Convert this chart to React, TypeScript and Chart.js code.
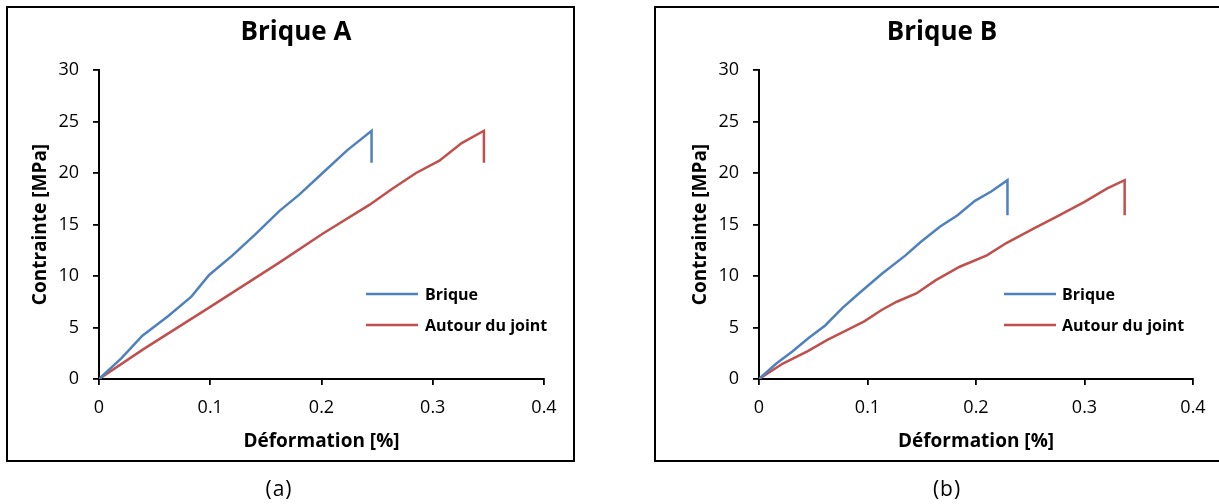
import React, { useEffect, useRef } from "react";
import { Chart, registerables } from "chart.js";

Chart.register(...registerables);

const FONT = "'Open Sans', sans-serif";

// Axis ticks
const xTicks = [0, 0.1, 0.2, 0.3, 0.4];
const yTicks = [0, 5, 10, 15, 20, 25, 30];

// Series
const seriesNames = ["Brique", "Autour du joint"];
const seriesColors = ["#4F81BD", "#C0504D"];
const xTitle = "Déformation [%]";
const yTitle = "Contrainte [MPa]";
const chartTitles = ["Brique A", "Brique B"];
const captions = ["(a)", "(b)"];

// Brique A
const aBriqueX = [0, 0.02, 0.039, 0.062, 0.083, 0.099, 0.12, 0.14, 0.162, 0.18, 0.201, 0.223, 0.245, 0.245];
const aBriqueY = [0, 2.0, 4.2, 6.1, 8.0, 10.1, 12.0, 14.0, 16.3, 17.9, 20.0, 22.2, 24.1, 21.0];
const aJointX = [0, 0.04, 0.1, 0.162, 0.201, 0.243, 0.264, 0.285, 0.306, 0.326, 0.346, 0.346];
const aJointY = [0, 2.9, 7.0, 11.3, 14.1, 16.9, 18.5, 20.0, 21.2, 22.9, 24.1, 21.0];

// Brique B
const bBriqueX = [0, 0.016, 0.031, 0.046, 0.061, 0.077, 0.092, 0.113, 0.135, 0.149, 0.167, 0.183, 0.199, 0.214, 0.229, 0.229];
const bBriqueY = [0, 1.5, 2.7, 4.0, 5.2, 6.9, 8.3, 10.2, 12.0, 13.3, 14.8, 15.9, 17.3, 18.2, 19.3, 15.9];
const bJointX = [0, 0.022, 0.045, 0.063, 0.081, 0.097, 0.113, 0.127, 0.145, 0.163, 0.185, 0.21, 0.228, 0.253, 0.274, 0.3, 0.321, 0.337, 0.337];
const bJointY = [0, 1.5, 2.7, 3.8, 4.75, 5.6, 6.7, 7.5, 8.3, 9.6, 10.9, 12.0, 13.2, 14.6, 15.75, 17.2, 18.5, 19.3, 15.9];

const toPoints = (xs: number[], ys: number[]) => xs.map((x, i) => ({ x, y: ys[i] }));

type Layout = {
  width: number;
  height: number;
  padLeft: number;
  padRight: number;
  titleX: number;
  legendLineX0: number;
  legendLineX1: number;
  legendTextX: number;
  legendY: number[];
};

const overlayPlugin = {
  id: "overlayText",
  afterDraw(chart: any) {
    const o = chart.options.plugins.overlayText;
    if (!o) return;
    const ctx = chart.ctx;
    ctx.save();
    ctx.fillStyle = "#000";
    ctx.textAlign = "center";
    ctx.textBaseline = "middle";
    ctx.font = `bold 26px ${FONT}`;
    ctx.fillText(o.title, o.titleX, o.titleY);
    chart.data.datasets.forEach((ds: any, i: number) => {
      const y = o.legendY[i];
      ctx.strokeStyle = ds.borderColor;
      ctx.lineWidth = 2.5;
      ctx.beginPath();
      ctx.moveTo(o.legendLineX0, y);
      ctx.lineTo(o.legendLineX1, y);
      ctx.stroke();
      ctx.fillStyle = "#000";
      ctx.textAlign = "left";
      ctx.font = `bold 16px ${FONT}`;
      ctx.fillText(ds.label, o.legendTextX, y + 1);
    });
    ctx.restore();
  },
};

function makeConfig(title: string, series: { x: number[]; y: number[] }[], L: Layout): any {
  return {
    type: "line",
    data: {
      datasets: series.map((s, i) => ({
        label: seriesNames[i],
        data: toPoints(s.x, s.y),
        borderColor: seriesColors[i],
        backgroundColor: seriesColors[i],
        borderWidth: 2.5,
        pointRadius: 0,
        tension: 0,
        fill: false,
      })),
    },
    options: {
      responsive: false,
      animation: false,
      layout: { padding: { left: L.padLeft, top: 70, right: L.padRight, bottom: 40 } },
      plugins: {
        legend: { display: false },
        title: { display: false },
        tooltip: { enabled: false },
        overlayText: {
          title,
          titleX: L.titleX,
          titleY: 33,
          legendLineX0: L.legendLineX0,
          legendLineX1: L.legendLineX1,
          legendTextX: L.legendTextX,
          legendY: L.legendY,
        },
      },
      scales: {
        x: {
          type: "linear",
          min: xTicks[0],
          max: xTicks[xTicks.length - 1],
          afterBuildTicks: (scale: any) => {
            scale.ticks = xTicks.map((v) => ({ value: v }));
          },
          afterFit: (scale: any) => {
            scale.height = 85;
          },
          grid: { display: true, drawOnChartArea: false, drawTicks: true, tickLength: 6, color: "#000", lineWidth: 1.8 },
          border: { display: true, color: "#000", width: 2 },
          ticks: {
            padding: 12,
            color: "#000",
            font: { family: FONT, size: 18 },
            maxRotation: 0,
            callback: (v: number) => String(Math.round(v * 10) / 10),
          },
          title: {
            display: true,
            text: xTitle,
            color: "#000",
            font: { family: FONT, size: 19, weight: "bold" },
            padding: { top: 0, bottom: 10.6 },
          },
        },
        y: {
          type: "linear",
          min: yTicks[0],
          max: yTicks[yTicks.length - 1],
          afterBuildTicks: (scale: any) => {
            scale.ticks = yTicks.map((v) => ({ value: v }));
          },
          afterFit: (scale: any) => {
            scale.width = 79;
          },
          grid: { display: true, drawOnChartArea: false, drawTicks: true, tickLength: 6, color: "#000", lineWidth: 1.8 },
          border: { display: true, color: "#000", width: 2 },
          ticks: {
            padding: 14,
            color: "#000",
            font: { family: FONT, size: 18 },
          },
          title: {
            display: true,
            text: yTitle,
            color: "#000",
            font: { family: FONT, size: 19, weight: "bold" },
            padding: { top: 9.6, bottom: 0 },
          },
        },
      },
    },
    plugins: [overlayPlugin],
  };
}

function ChartCanvas(props: { left: number; title: string; series: { x: number[]; y: number[] }[]; layout: Layout }) {
  const ref = useRef<HTMLCanvasElement>(null);
  useEffect(() => {
    if (!ref.current) return;
    const chart = new Chart(ref.current, makeConfig(props.title, props.series, props.layout));
    return () => chart.destroy();
  }, []);
  return (
    <canvas
      ref={ref}
      width={props.layout.width}
      height={props.layout.height}
      style={{ position: "absolute", left: props.left, top: 0, width: props.layout.width, height: props.layout.height }}
    />
  );
}

const layoutA: Layout = {
  width: 610,
  height: 504,
  padLeft: 20,
  padRight: 66,
  titleX: 296,
  legendLineX0: 366,
  legendLineX1: 418,
  legendTextX: 425,
  legendY: [294, 325],
};

const layoutB: Layout = {
  width: 609,
  height: 504,
  padLeft: 70,
  padRight: 26,
  titleX: 332,
  legendLineX0: 394,
  legendLineX1: 446,
  legendTextX: 452,
  legendY: [294, 325],
};

export default function App() {
  const captionStyle = (cx: number): React.CSSProperties => ({
    position: "absolute",
    left: cx - 30,
    width: 60,
    top: 475,
    textAlign: "center",
    fontFamily: FONT,
    fontSize: 21,
    lineHeight: "26px",
    letterSpacing: "1px",
    color: "#000",
  });
  return (
    <div style={{ position: "absolute", left: 0, top: 0, width: 1219, height: 504, overflow: "hidden", background: "#fff" }}>
      <ChartCanvas
        left={0}
        title={chartTitles[0]}
        series={[{ x: aBriqueX, y: aBriqueY }, { x: aJointX, y: aJointY }]}
        layout={layoutA}
      />
      <ChartCanvas
        left={610}
        title={chartTitles[1]}
        series={[{ x: bBriqueX, y: bBriqueY }, { x: bJointX, y: bJointY }]}
        layout={layoutB}
      />
      <div style={{ position: "absolute", left: 6, top: 6, width: 569, height: 456, border: "2px solid #000", boxSizing: "border-box", pointerEvents: "none" }} />
      <div style={{ position: "absolute", left: 654, top: 6, width: 580, height: 456, border: "2px solid #000", boxSizing: "border-box", pointerEvents: "none" }} />
      <div style={captionStyle(279)}>{captions[0]}</div>
      <div style={captionStyle(947)}>{captions[1]}</div>
    </div>
  );
}
